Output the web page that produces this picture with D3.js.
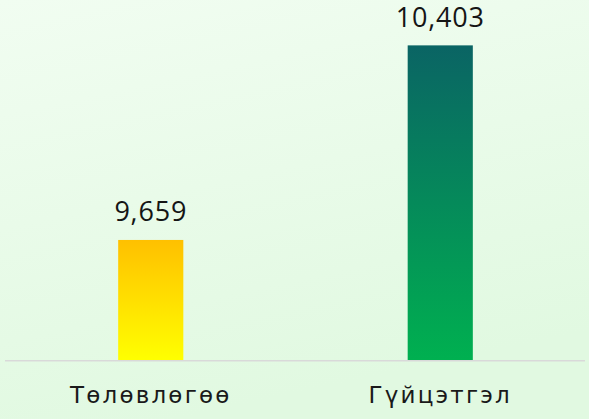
<!DOCTYPE html>
<html>
<head>
<meta charset="utf-8">
<script src="https://cdn.jsdelivr.net/npm/d3@7"></script>
<style>
  html, body { margin: 0; padding: 0; }
  body { width: 589px; height: 419px; overflow: hidden; }
</style>
</head>
<body>
<div id="chart"></div>
<script>
// data
var categories = ["Төлөвлөгөө", "Гүйцэтгэл"];
var values = [9659, 10403];
var valueLabels = ["9,659", "10,403"];

var width = 589, height = 419;
var margin = {left: 6, right: 4, top: 20, bottom: 59};

var svg = d3.select("#chart").append("svg")
    .attr("width", width).attr("height", height);

var defs = svg.append("defs");

// background
var bg = defs.append("linearGradient").attr("id", "bgGrad")
    .attr("x1", "0").attr("y1", "0").attr("x2", "0.3").attr("y2", "1");
bg.append("stop").attr("offset", "0%").attr("stop-color", "#f1fdf1");
bg.append("stop").attr("offset", "100%").attr("stop-color", "#e1f9e1");
svg.append("rect").attr("width", width).attr("height", height).attr("fill", "url(#bgGrad)");

// bar gradients
var barColors = [["#ffc000", "#ffff00"], ["#0a6464", "#00b050"]];
barColors.forEach(function(c, i) {
  var g = defs.append("linearGradient").attr("id", "barGrad" + i)
      .attr("x1", "0").attr("y1", "0").attr("x2", "0").attr("y2", "1");
  g.append("stop").attr("offset", "0%").attr("stop-color", c[0]);
  g.append("stop").attr("offset", "100%").attr("stop-color", c[1]);
});

var x = d3.scaleBand().domain(categories)
    .range([margin.left, width - margin.right])
    .paddingInner(0.775).paddingOuter(0.3875);

var y = d3.scaleLinear().domain([9200, 10500])
    .range([height - margin.bottom, margin.top]);

// bars
svg.selectAll("rect.bar")
  .data(categories)
  .enter()
  .append("rect")
    .attr("class", "bar")
    .attr("x", function(d){ return x(d); })
    .attr("width", x.bandwidth())
    .attr("y", function(d, i){ return y(values[i]); })
    .attr("height", function(d, i){ return y.range()[0] - y(values[i]); })
    .attr("fill", function(d, i){ return "url(#barGrad" + i + ")"; });

// baseline
svg.append("line")
  .attr("x1", margin.left - 1).attr("x2", width - margin.right)
  .attr("y1", y.range()[0] + 0.75).attr("y2", y.range()[0] + 0.75)
  .attr("stroke", "#d9d9d9").attr("stroke-width", 1.5);

// value labels
svg.selectAll("text.val")
  .data(categories)
  .enter()
  .append("text")
    .attr("class", "val")
    .attr("x", function(d){ return x(d) + x.bandwidth() / 2; })
    .attr("y", function(d, i){ return y(values[i]) - 18.5; })
    .attr("text-anchor", "middle")
    .style("font-family", "'Open Sans', sans-serif")
    .style("font-size", "27px")
    .style("letter-spacing", "0.8px")
    .style("fill", "#151515")
    .text(function(d, i){ return valueLabels[i]; });

// category labels
svg.selectAll("text.cat")
  .data(categories)
  .enter()
  .append("text")
    .attr("class", "cat")
    .attr("x", function(d){ return x(d) + x.bandwidth() / 2; })
    .attr("y", 402.5)
    .attr("text-anchor", "middle")
    .style("font-family", "'DejaVu Sans', sans-serif")
    .style("font-size", "23px")
    .style("letter-spacing", "2.2px")
    .style("fill", "#1a1a1a")
    .text(function(d){ return d; });
</script>
</body>
</html>
